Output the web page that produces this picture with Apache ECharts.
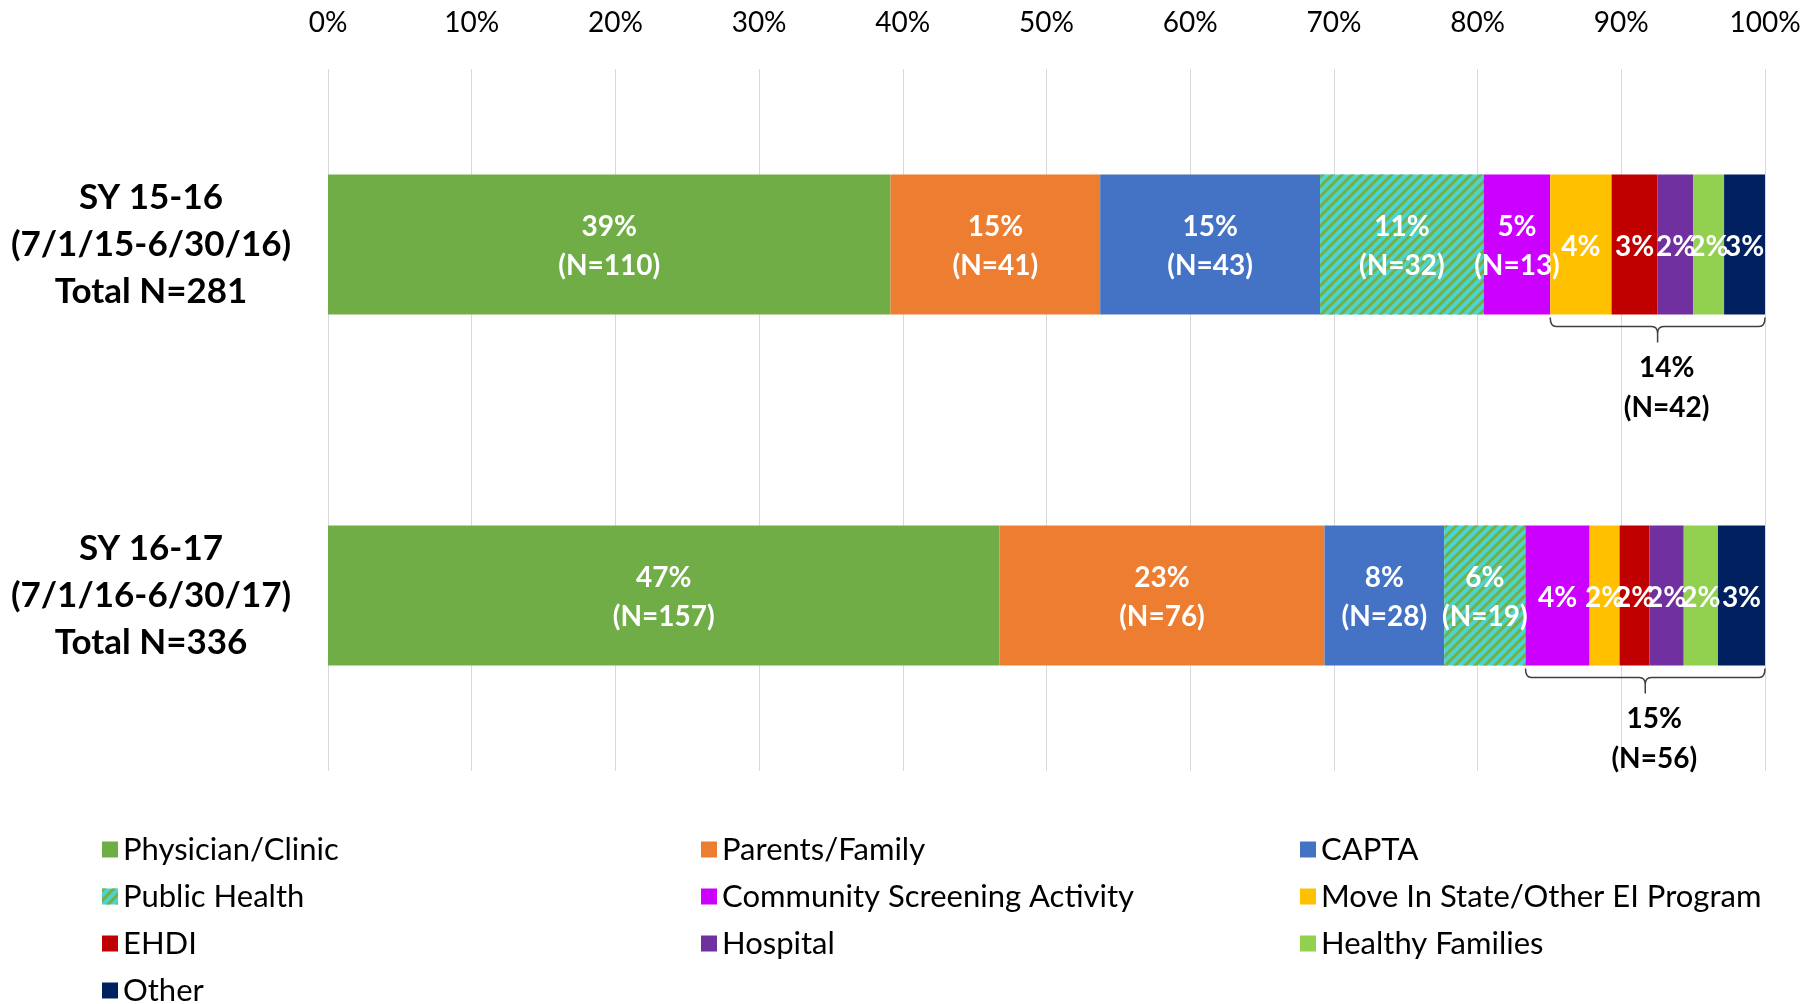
<!DOCTYPE html>
<html>
<head>
<meta charset="utf-8">
<script src="https://cdn.jsdelivr.net/npm/echarts@6/dist/echarts.min.js"></script>
<style>
  html, body { margin: 0; padding: 0; background: #fff; }
  #chart { width: 1810px; height: 1004px; }
</style>
</head>
<body>
<div id="chart"></div>
<script>
// school years (top to bottom)
const categories = [
  "SY 15-16\n(7/1/15-6/30/16)\nTotal N=281",
  "SY 16-17\n(7/1/16-6/30/17)\nTotal N=336",
];
const totals = [281, 336];

// referral sources, in stacking order
const sourceNames = [
  "Physician/Clinic",
  "Parents/Family",
  "CAPTA",
  "Public Health",
  "Community Screening Activity",
  "Move In State/Other EI Program",
  "EHDI",
  "Hospital",
  "Healthy Families",
  "Other",
];

// counts per school year
const physicianClinic = [110, 157];
const parentsFamily = [41, 76];
const capta = [43, 28];
const publicHealth = [32, 19];
const communityScreening = [13, 15];
const moveInState = [12, 7];
const ehdi = [9, 7];
const hospital = [7, 8];
const healthyFamilies = [6, 8];
const other = [8, 11];

const sourceColors = [
  "#70AD47", "#ED7D31", "#4472C4", "#4AD4D2", "#CC00FF",
  "#FFC000", "#C00000", "#7030A0", "#92D050", "#002060",
];

// bracket under the small sources: first source inside it, and its label
const bracketFrom = [5, 4];
const bracketLabels = ["14%\n(N=42)", "15%\n(N=56)"];

const FONT = "Lato, 'Noto Sans', sans-serif";

const counts = [
  physicianClinic, parentsFamily, capta, publicHealth, communityScreening,
  moveInState, ehdi, hospital, healthyFamilies, other,
];

function share(i, j) {
  return (counts[i][j] / totals[j]) * 100;
}

function initChart() {
  const myChart = echarts.init(document.getElementById("chart"));

  let series = [];
  for (let i = 0; i < sourceNames.length; i++) {
    let item = {
      name: sourceNames[i],
      type: "bar",
      stack: "total",
      barWidth: 140,
      data: categories.map((c, j) => share(i, j)),
      itemStyle: { color: sourceColors[i] },
      label: {
        show: true,
        position: "inside",
        offset: [0, 2],
        color: "#fff",
        fontFamily: FONT,
        fontWeight: "bold",
        fontSize: 28,
        lineHeight: 39,
        formatter: (p) => {
          const pct = Math.round(p.value) + "%";
          if (p.seriesIndex < bracketFrom[p.dataIndex]) {
            return pct + "\n(N=" + counts[p.seriesIndex][p.dataIndex] + ")";
          }
          return pct;
        },
      },
    };
    if (sourceNames[i] === "Public Health") {
      // cyan with green diagonal stripes
      item.itemStyle.decal = {
        symbol: "rect",
        symbolSize: 1,
        color: "#78AE42",
        dashArrayX: [1, 0],
        dashArrayY: [2.6, 3.4],
        rotation: -Math.PI / 4,
      };
    }
    series.push(item);
  }

  // brackets below each bar
  let bracketData = [];
  for (let j = 0; j < categories.length; j++) {
    let start = 0;
    let end = 0;
    for (let i = 0; i < sourceNames.length; i++) {
      if (i < bracketFrom[j]) start += share(i, j);
      end += share(i, j);
    }
    bracketData.push([start, end, j, bracketLabels[j]]);
  }
  series.push({
    type: "custom",
    name: "bracket",
    silent: true,
    clip: false,
    z: 10,
    encode: { x: [0, 1], y: 2 },
    data: bracketData,
    renderItem: (params, api) => {
      const a = api.coord([api.value(0), api.value(2)]);
      const b = api.coord([api.value(1), api.value(2)]);
      const x0 = a[0];
      const x1 = b[0];
      const xm = (x0 + x1) / 2;
      const y = a[1] + 70; // bottom edge of the bar
      const d =
        "M" + x0 + " " + (y + 3) +
        " Q" + x0 + " " + (y + 12) + " " + (x0 + 6) + " " + (y + 12) +
        " L" + (xm - 6) + " " + (y + 12) +
        " Q" + xm + " " + (y + 12) + " " + xm + " " + (y + 19) +
        " L" + xm + " " + (y + 28) +
        " M" + xm + " " + (y + 19) +
        " Q" + xm + " " + (y + 12) + " " + (xm + 6) + " " + (y + 12) +
        " L" + (x1 - 6) + " " + (y + 12) +
        " Q" + x1 + " " + (y + 12) + " " + x1 + " " + (y + 3);
      return {
        type: "group",
        children: [
          {
            type: "path",
            shape: { pathData: d },
            style: { fill: null, stroke: "#404040", lineWidth: 1.5 },
          },
          {
            type: "text",
            x: xm + 9,
            y: y + 33,
            style: {
              text: bracketLabels[params.dataIndex],
              fill: "#000",
              font: "bold 28px " + FONT,
              align: "center",
              verticalAlign: "top",
              lineHeight: 40,
            },
          },
        ],
      };
    },
  });

  // legend laid out as three columns
  const legendBase = {
    orient: "vertical",
    top: 834,
    height: 200,
    padding: 0,
    icon: "rect",
    itemWidth: 16,
    itemHeight: 16,
    itemGap: 16,
    textStyle: { fontFamily: FONT, fontSize: 31, color: "#000" },
  };

  myChart.setOption({
    animation: false,
    textStyle: { fontFamily: FONT },
    grid: { left: 328, right: 45, top: 69, bottom: 233 },
    legend: [
      Object.assign({ left: 102, data: [sourceNames[0], sourceNames[3], sourceNames[6], sourceNames[9]] }, legendBase),
      Object.assign({ left: 701, data: [sourceNames[1], sourceNames[4], sourceNames[7]] }, legendBase),
      Object.assign({ left: 1300, data: [sourceNames[2], sourceNames[5], sourceNames[8]] }, legendBase),
    ],
    xAxis: {
      type: "value",
      position: "top",
      min: 0,
      max: 100,
      interval: 10,
      axisLine: { show: false },
      axisTick: { show: false },
      axisLabel: {
        formatter: "{value}%",
        fontFamily: FONT,
        fontSize: 28,
        color: "#000",
        margin: 32,
      },
      splitLine: { lineStyle: { color: "#D9D9D9", width: 1 } },
    },
    yAxis: {
      type: "category",
      inverse: true,
      data: categories,
      axisLine: { show: false },
      axisTick: { show: false },
      axisLabel: {
        align: "center",
        margin: 177,
        fontFamily: FONT,
        fontWeight: "bold",
        fontSize: 35,
        lineHeight: 47,
        color: "#000",
      },
    },
    series: series,
  });
}

initChart();
</script>
</body>
</html>
